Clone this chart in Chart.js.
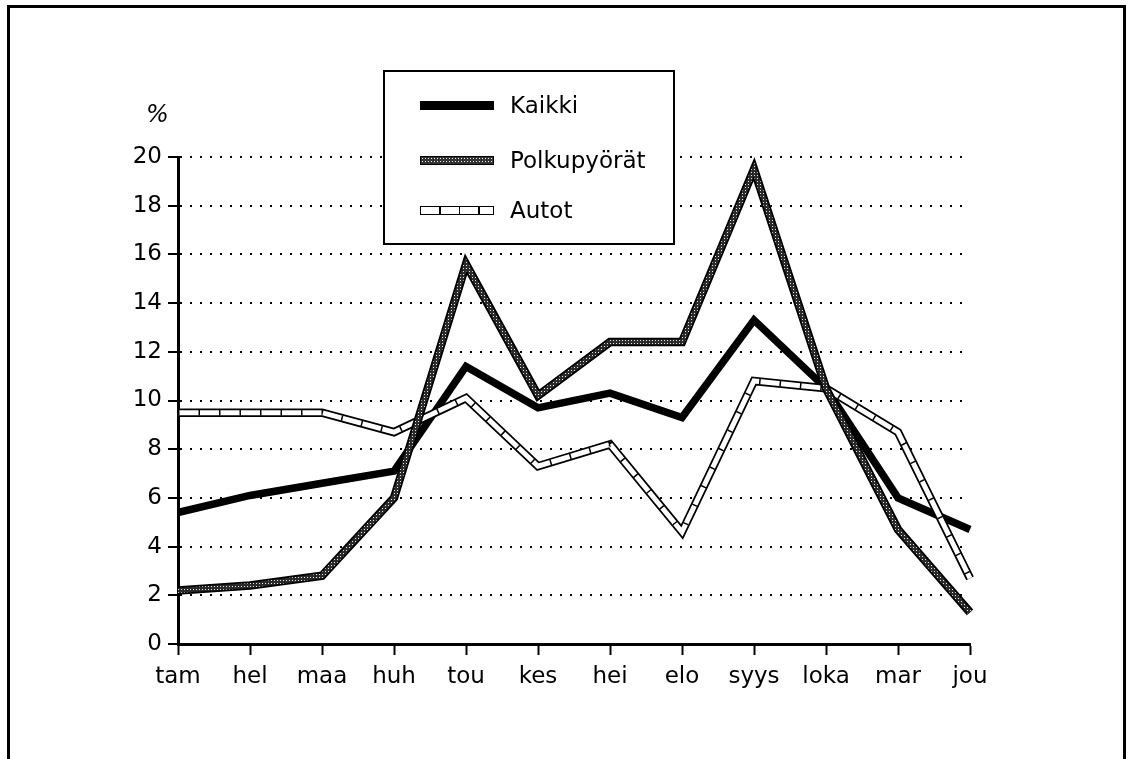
<!DOCTYPE html>
<html>
<head>
<meta charset="utf-8">
<script src="https://cdn.jsdelivr.net/npm/chart.js@4/dist/chart.umd.min.js"></script>
<style>
  body { margin: 0; background: #fff; font-family: "DejaVu Sans", sans-serif; }
  #wrap { position: absolute; left: 0; top: 0; width: 1130px; height: 759px; }
  #frame { position: absolute; left: 7px; top: 5px; width: 1113px; height: 760px;
           border-left: 3px solid #000; border-top: 3px solid #000; border-right: 3px solid #000; }
  #pct { position: absolute; left: 146px; top: 100px; font-size: 24px; font-style: italic; }
  #legend { position: absolute; left: 383px; top: 70px; width: 288px; height: 171px;
            border: 2px solid #000; background: #fff; }
  .item { position: absolute; left: 0; height: 30px; width: 100%; }
  .sw { position: absolute; left: 35px; width: 74px; height: 9px; box-sizing: border-box; }
  .lab { position: absolute; left: 125px; font-size: 23px; line-height: 30px; top: -15px; }
  .kaikki { background: #000; }
  .polku { border: 1.5px solid #000; background-color: #333;
           background-image: radial-gradient(#eee 0.6px, transparent 0.8px); background-size: 3px 3px; }
  .autot { border: 1.5px solid #000; background: #fff;
           background-image: repeating-linear-gradient(90deg, #fff 0 18px, #000 18px 19.5px); }
</style>
</head>
<body>
<div id="wrap"><canvas id="chart"></canvas></div>
<div id="frame"></div>
<div id="pct">%</div>
<div id="legend">
  <div class="item" style="top:33px"><div class="sw kaikki" style="top:-4px"></div><div class="lab">Kaikki</div></div>
  <div class="item" style="top:88px"><div class="sw polku" style="top:-4px"></div><div class="lab">Polkupyörät</div></div>
  <div class="item" style="top:138px"><div class="sw autot" style="top:-4px"></div><div class="lab">Autot</div></div>
</div>
<script>
var months = ['tam', 'hel', 'maa', 'huh', 'tou', 'kes', 'hei', 'elo', 'syys', 'loka', 'mar', 'jou'];
var kaikki = [5.4, 6.1, 6.6, 7.1, 11.4, 9.7, 10.3, 9.3, 13.3, 10.5, 6.0, 4.7];
var polkupyorat = [2.2, 2.4, 2.8, 6.0, 15.6, 10.2, 12.4, 12.4, 19.5, 10.5, 4.7, 1.3];
var autot = [9.5, 9.5, 9.5, 8.7, 10.1, 7.3, 8.2, 4.6, 10.8, 10.5, 8.7, 2.7];
var yTicks = [0, 2, 4, 6, 8, 10, 12, 14, 16, 18, 20];

// stipple pattern for the bicycle line
var pc = document.createElement('canvas');
pc.width = 3; pc.height = 3;
var px = pc.getContext('2d');
px.fillStyle = '#2a2a2a';
px.fillRect(0, 0, 3, 3);
px.fillStyle = '#e8e8e8';
px.fillRect(1, 1, 1, 1);
var stipple = px.createPattern(pc, 'repeat');

function line(data, color, width, order, dash) {
  return {
    data: data,
    borderColor: color,
    borderWidth: width,
    borderDash: dash || [],
    borderJoinStyle: 'miter',
    borderCapStyle: 'butt',
    pointRadius: 0,
    tension: 0,
    fill: false,
    order: order
  };
}

var font = { family: 'DejaVu Sans', size: 23 };

var ctx = document.getElementById('chart').getContext('2d');
var chart = new Chart(ctx, {
  type: 'line',
  data: {
    labels: months,
    datasets: [
      line(polkupyorat, stipple, 5, 1),
      line(polkupyorat, '#000', 8.5, 2),
      line(autot, '#000', 5.5, 3, [1.5, 19]),
      line(autot, '#fff', 5, 4),
      line(autot, '#000', 8.5, 5),
      line(kaikki, '#000', 7.5, 6)
    ]
  },
  options: {
    responsive: true,
    maintainAspectRatio: false,
    animation: false,
    events: [],
    layout: { padding: { left: 0, top: 157, right: 160, bottom: 55 } },
    plugins: { legend: { display: false }, tooltip: { enabled: false } },
    scales: {
      x: {
        offset: false,
        afterFit: function(scale) { scale.height = 60; },
        grid: { drawOnChartArea: false, drawTicks: true, tickLength: 11, tickWidth: 2, tickColor: '#000', color: '#000' },
        border: { display: true, color: '#000', width: 3 },
        ticks: { color: '#000', font: font, padding: 8, maxRotation: 0, autoSkip: false }
      },
      y: {
        min: 0,
        max: 20,
        afterFit: function(scale) { scale.width = 178; },
        afterBuildTicks: function(scale) { scale.ticks = yTicks.map(function(v) { return { value: v }; }); },
        grid: { color: '#000', lineWidth: 2, drawTicks: true, tickLength: 10, tickWidth: 2, tickColor: '#000', tickBorderDash: [] },
        border: { display: true, color: '#000', width: 3, dash: [2, 8] },
        ticks: { color: '#000', font: font, padding: 6 }
      }
    }
  }
});
</script>
</body>
</html>
